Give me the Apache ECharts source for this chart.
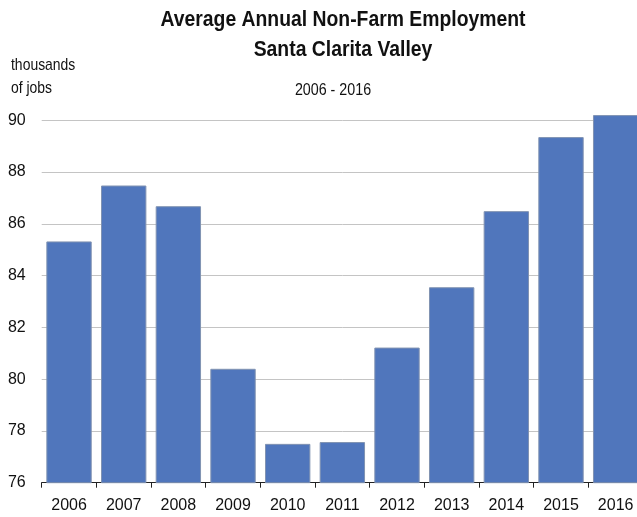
<!DOCTYPE html>
<html>
<head>
<meta charset="utf-8">
<script src="https://cdn.jsdelivr.net/npm/echarts@6/dist/echarts.min.js"></script>
<style>
html,body{margin:0;padding:0;background:#fff;overflow:hidden;width:637px;height:517px;}
#chart{width:643px;height:517px;}
</style>
</head>
<body>
<div id="chart"></div>
<script>
const years = ['2006','2007','2008','2009','2010','2011','2012','2013','2014','2015','2016'];
const jobs = [85.32, 87.48, 86.68, 80.40, 77.50, 77.57, 81.22, 83.55, 86.49, 89.35, 90.20];
const yTicks = [76, 78, 80, 82, 84, 86, 88, 90];
const titleText = 'Average Annual Non-Farm Employment';
const subTitleText = 'Santa Clarita Valley';
const rangeText = '2006 - 2016';
const unitLine1 = 'thousands';
const unitLine2 = 'of jobs';

const FONT = '"Liberation Sans", Arial, sans-serif';
const yMin = yTicks[0];
const yTop = yTicks[yTicks.length - 1];
const yMax = yTop + 0.3;   // a little headroom so the 2016 bar is not cut

const chart = echarts.init(document.getElementById('chart'), null, {renderer: 'canvas'});

function txt(text, x, y, size, weight, sx, align) {
  return {
    type: 'text', x: x, y: y, scaleX: sx, silent: true,
    style: {text: text, fill: '#111', font: weight + ' ' + size + 'px ' + FONT,
            textAlign: align, textVerticalAlign: 'middle'}
  };
}

chart.setOption({
  animation: false,
  backgroundColor: '#ffffff',
  graphic: [
    txt(titleText, 343, 20, 22, 'bold', 0.88, 'center'),
    txt(subTitleText, 343, 50, 22, 'bold', 0.88, 'center'),
    txt(rangeText, 333, 90, 17, 'normal', 0.84, 'center'),
    txt(unitLine1, 11, 65, 17, 'normal', 0.82, 'left'),
    txt(unitLine2, 11, 88, 17, 'normal', 0.82, 'left')
  ],
  grid: {left: 41.7, right: 0, top: 112.5, bottom: 34.3, containLabel: false},
  xAxis: {
    type: 'category',
    data: years,
    boundaryGap: true,
    axisLine: {show: true, lineStyle: {color: '#222', width: 1}},
    axisTick: {show: true, length: 5, alignWithLabel: false, lineStyle: {color: '#222'}},
    axisLabel: {fontFamily: FONT, fontSize: 16, color: '#111', margin: 15}
  },
  yAxis: {
    type: 'value',
    min: yMin,
    max: yMax,
    interval: 2,
    axisLine: {show: false},
    axisTick: {show: false},
    axisLabel: {fontFamily: FONT, fontSize: 16, color: '#111', margin: 16, showMaxLabel: false,
      formatter: function (v) { return yTicks.indexOf(v) >= 0 ? String(v) : ''; }},
    splitLine: {show: true, showMaxLine: false, lineStyle: {color: '#c4c4c4', width: 1}}
  },
  series: [{
    type: 'bar',
    data: jobs,
    barCategoryGap: '17%',
    itemStyle: {color: '#5076bc', borderColor: '#8193b2', borderWidth: 1}
  }]
});
</script>
</body>
</html>
